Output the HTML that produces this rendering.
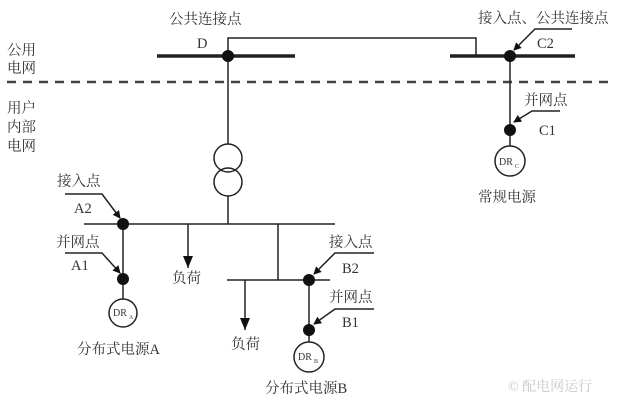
<!DOCTYPE html><html><head><meta charset="utf-8"><style>body{margin:0;background:#fff}svg text{font-family:"Liberation Serif","Noto Serif CJK SC",serif;fill:#333}</style></head><body>
<svg width="640" height="409" viewBox="0 0 640 409" xmlns="http://www.w3.org/2000/svg">
<defs><marker id="a" markerWidth="8" markerHeight="8" refX="7" refY="4" orient="auto" markerUnits="userSpaceOnUse"><path d="M0,0 L8,4 L0,8z" fill="#111"/></marker>
<marker id="d" markerWidth="10" markerHeight="12" refX="5" refY="12" orient="0" markerUnits="userSpaceOnUse"><path d="M0,0 L10,0 L5,12z" fill="#111"/></marker></defs>
<g stroke="#222" fill="none" stroke-width="1.5">
<line x1="157" y1="56" x2="295" y2="56" stroke-width="3.5"/>
<line x1="450" y1="56" x2="575" y2="56" stroke-width="3.5"/>
<polyline points="228,56 228,38 476,38 476,56"/>
<line x1="7" y1="82" x2="612" y2="82" stroke-width="2.5" stroke-dasharray="9,7" stroke="#444"/>
<line x1="228" y1="56" x2="228" y2="144"/>
<circle cx="228" cy="158" r="14"/><circle cx="228" cy="182" r="14"/>
<line x1="228" y1="196" x2="228" y2="224"/>
<line x1="84" y1="224" x2="335" y2="224"/>
<line x1="123" y1="224" x2="123" y2="299"/>
<circle cx="123" cy="313" r="14"/>
<line x1="188" y1="224" x2="188" y2="268" marker-end="url(#d)"/>
<line x1="278" y1="224" x2="278" y2="280"/>
<line x1="227" y1="280" x2="330" y2="280"/>
<line x1="245" y1="280" x2="245" y2="330" marker-end="url(#d)"/>
<line x1="309" y1="280" x2="309" y2="342"/>
<circle cx="309" cy="357" r="15"/>
<line x1="510" y1="56" x2="510" y2="146"/>
<circle cx="510" cy="161" r="15"/>
<polyline points="65,194 102,194 120,218" marker-end="url(#a)"/>
<polyline points="65,253 102,253 120,273" marker-end="url(#a)"/>
<polyline points="374,253 335,253 314,274" marker-end="url(#a)"/>
<polyline points="374,309 335,309 314,324" marker-end="url(#a)"/>
<polyline points="572,29 535,29 514,50" marker-end="url(#a)"/>
<polyline points="560,111 532,111 514,122" marker-end="url(#a)"/>
</g>
<g fill="#111"><circle cx="228" cy="56" r="6"/><circle cx="510" cy="56" r="6"/><circle cx="510" cy="130" r="6"/><circle cx="123" cy="224" r="6"/><circle cx="123" cy="279" r="6"/><circle cx="309" cy="280" r="6"/><circle cx="309" cy="330" r="6"/></g>
<g font-size="14.5">
<text x="169" y="24">公共连接点</text>
<text x="478" y="23">接入点、公共连接点</text>
<text x="197" y="48">D</text>
<text x="537" y="48">C2</text>
<text x="7" y="55">公用</text><text x="7" y="73">电网</text>
<text x="7" y="113">用户</text><text x="7" y="132">内部</text><text x="7" y="151">电网</text>
<text x="524" y="105">并网点</text><text x="539" y="135">C1</text>
<text x="478" y="202">常规电源</text>
<text x="57" y="186">接入点</text><text x="74" y="213">A2</text>
<text x="56" y="247">并网点</text><text x="71" y="270">A1</text>
<text x="172" y="283">负荷</text>
<text x="77" y="354">分布式电源A</text>
<text x="329" y="247">接入点</text><text x="342" y="273">B2</text>
<text x="329" y="302">并网点</text><text x="342" y="327">B1</text>
<text x="231" y="349">负荷</text>
<text x="265" y="393">分布式电源B</text>
</g>
<g font-size="10"><text x="113" y="316">DR</text><text x="129" y="319" font-size="6">A</text>
<text x="298" y="360">DR</text><text x="314" y="363" font-size="6">B</text>
<text x="499" y="165">DR</text><text x="515" y="168" font-size="6">C</text></g>
<text x="508" y="391" font-size="14" style="fill:#c8c8c8">© 配电网运行</text>
</svg></body></html>
